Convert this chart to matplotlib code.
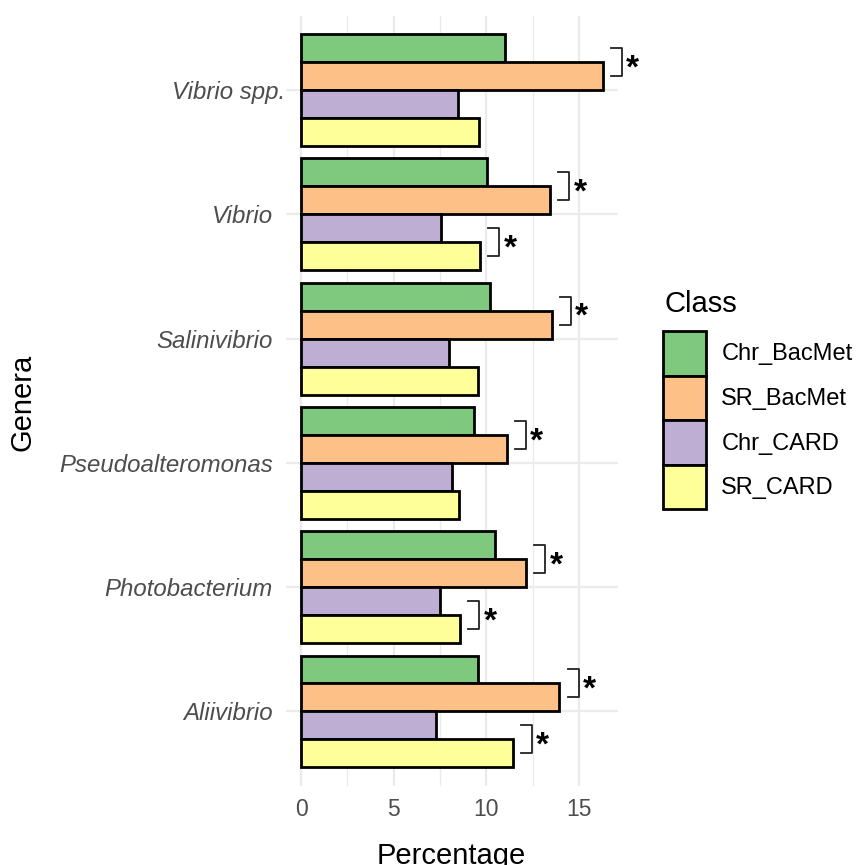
import numpy as np
import matplotlib
matplotlib.use('Agg')
import matplotlib.pyplot as plt
from matplotlib.transforms import ScaledTranslation

plt.rcParams['font.family'] = ['Liberation Sans', 'DejaVu Sans']

# genera, bottom to top
genera = ['Aliivibrio', 'Photobacterium', 'Pseudoalteromonas',
          'Salinivibrio', 'Vibrio', 'Vibrio spp.']
classes = ['Chr_BacMet', 'SR_BacMet', 'Chr_CARD', 'SR_CARD']
class_colors = ['#7FC97F', '#FDC086', '#BEAED4', '#FFFF99']

chr_bacmet = [9.53, 10.49, 9.32, 10.22, 10.02, 11.01]
sr_bacmet = [13.94, 12.14, 11.10, 13.53, 13.44, 16.28]
chr_card = [7.29, 7.50, 8.15, 8.00, 7.56, 8.45]
sr_card = [11.42, 8.58, 8.53, 9.53, 9.66, 9.61]

# significant Chr vs SR comparisons per genus
sig_bacmet = [True, True, True, True, True, True]
sig_card = [True, True, False, False, True, False]

series = [chr_bacmet, sr_bacmet, chr_card, sr_card]

fig = plt.figure(figsize=(8.58, 8.65), dpi=100)
ax = fig.add_axes([286 / 858, 1 - 786 / 865, (617.7 - 286) / 858, (786 - 15.5) / 865])

y = np.arange(len(genera))
bar_h = 0.9 / 4
offsets = [1.5 * bar_h, 0.5 * bar_h, -0.5 * bar_h, -1.5 * bar_h]

for vals, off, col, name in zip(series, offsets, class_colors, classes):
    ax.barh(y + off, vals, height=bar_h, color=col, edgecolor='black',
            linewidth=2.0, label=name, zorder=3)


def draw_bracket(yi, top_off, bot_off, top_val, bot_val):
    x0 = max(top_val, bot_val) + 0.45
    x1 = x0 + 0.6
    ax.plot([x0, x1, x1, x0], [yi + top_off, yi + top_off, yi + bot_off, yi + bot_off],
            color='#222222', linewidth=1.3, clip_on=False, zorder=4)
    ax.annotate('*', xy=(x1, yi + (top_off + bot_off) / 2), xytext=(3, -11),
                textcoords='offset points', ha='left', va='baseline',
                fontsize=24, fontweight='bold', color='black', annotation_clip=False)


for i in range(len(genera)):
    if sig_bacmet[i]:
        draw_bracket(y[i], offsets[0], offsets[1], chr_bacmet[i], sr_bacmet[i])
    if sig_card[i]:
        draw_bracket(y[i], offsets[2], offsets[3], chr_card[i], sr_card[i])

ax.set_xlim(-0.82, 17.1)
ax.set_ylim(-0.6, len(genera) - 0.4)
ax.set_xticks([0, 5, 10, 15])
ax.set_xticks([2.5, 7.5, 12.5], minor=True)
ax.set_yticks(y)
ax.set_yticklabels(genera, fontstyle='italic')
ax.tick_params(axis='both', which='both', length=0, labelcolor='#4D4D4D')
ax.tick_params(axis='x', labelsize=16.5, pad=9)
ax.tick_params(axis='y', labelsize=17.3, pad=9.5)
# the "spp." label sits a little closer to the panel
spp = ax.get_yticklabels()[-1]
spp.set_transform(spp.get_transform() + ScaledTranslation(12 / 100, 0, fig.dpi_scale_trans))

ax.grid(which='major', color='#EBEBEB', linewidth=1.6, zorder=0)
ax.grid(which='minor', axis='x', color='#EBEBEB', linewidth=1.0, zorder=0)
ax.set_axisbelow(True)
for s in ax.spines.values():
    s.set_visible(False)

fig.text(451 / 858, 1 / 865, 'Percentage', ha='center', va='baseline', fontsize=21)
fig.text(23 / 858, 1 - 402 / 865, 'Genera', ha='center', va='center', rotation=90, fontsize=21)

fig.text(665 / 858, 1 - 312 / 865, 'Class', ha='left', va='baseline', fontsize=21)
leg = ax.legend(loc='upper left', bbox_to_anchor=(663 / 858, 1 - 331 / 865),
                bbox_transform=fig.transFigure, frameon=False, fontsize=17,
                handlelength=1.82, handleheight=2.53, labelspacing=0,
                handletextpad=0.65, borderpad=0, borderaxespad=0)

fig.savefig('out.png', dpi=100)
